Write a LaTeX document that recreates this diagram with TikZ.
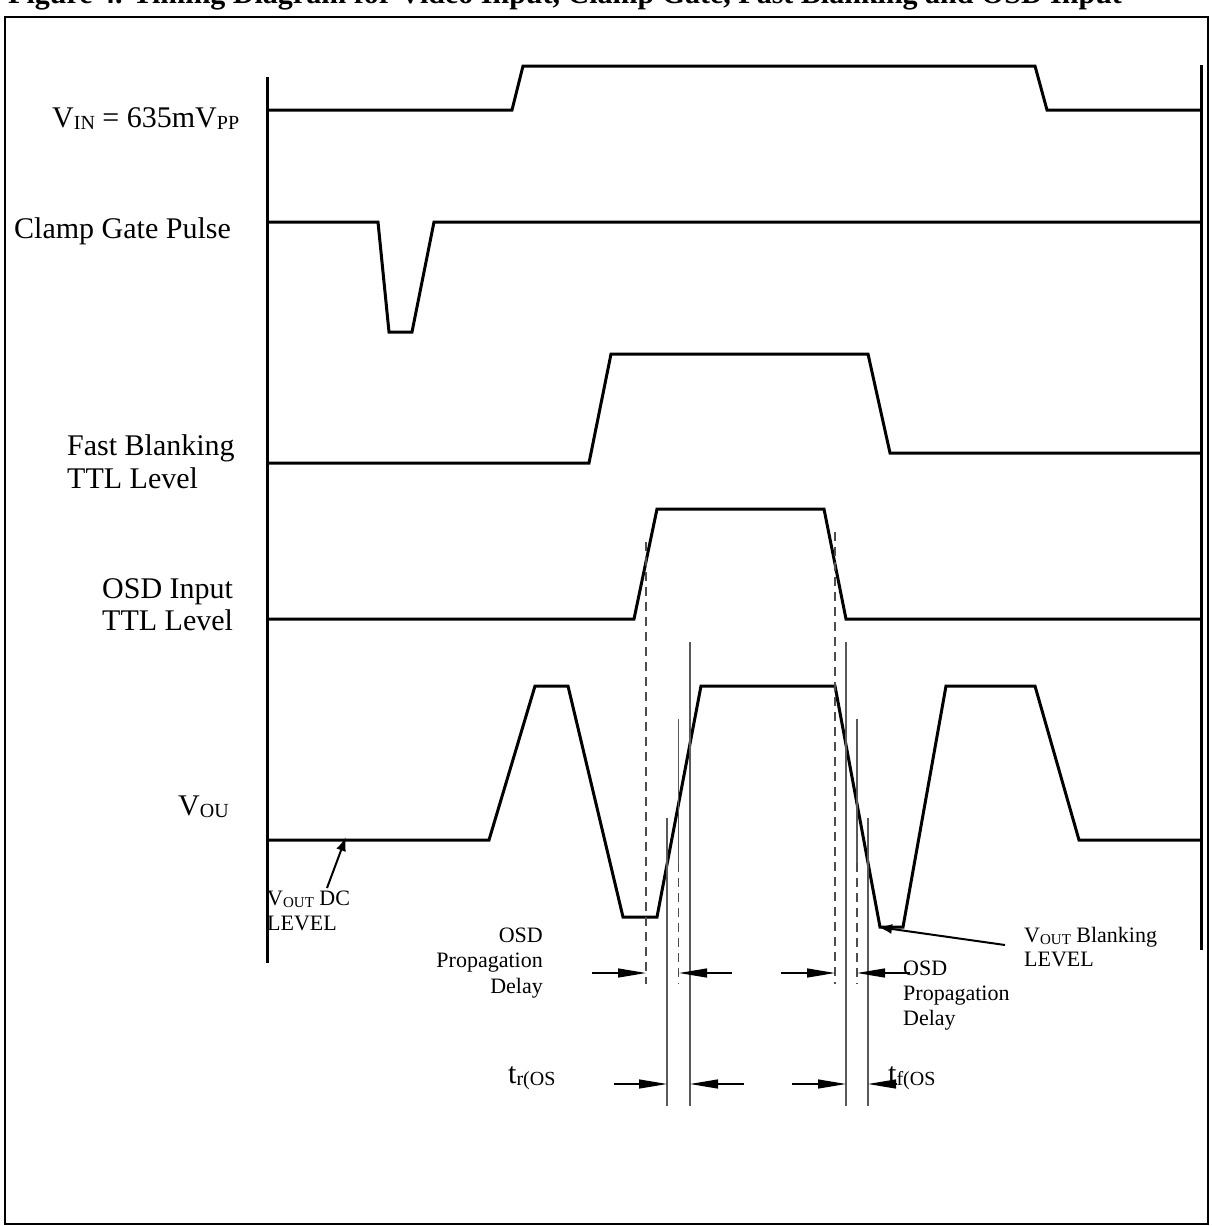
\documentclass[tikz,border=0pt]{standalone}
\usepackage{fontspec}
\setmainfont{Liberation Serif}
\usetikzlibrary{arrows.meta}
\newcommand\subb[1]{\raisebox{-2.5pt}{\fontsize{20}{20}\selectfont #1}}
\newcommand\subs[1]{\raisebox{-2pt}{\fontsize{15}{15}\selectfont #1}}
\tikzset{
  wave/.style={line width=3pt, line join=miter},
  axisline/.style={line width=3pt},
  guide/.style={line width=1.2pt, draw=black!65},
  dguide/.style={line width=1.2pt, draw=black!70, dash pattern=on 9pt off 6pt},
  dimarrow/.style={line width=1.3pt, -{Triangle[length=28pt,width=9pt]}},
  callout/.style={line width=2pt, -{Latex[length=14pt,width=10pt]}},
  big/.style={font=\fontsize{30}{33}\selectfont, inner sep=0pt},
  small/.style={font=\fontsize{22}{25}\selectfont, inner sep=0pt},
}
\begin{document}
\begin{tikzpicture}[x=1pt,y=-1pt]
\useasboundingbox (0,0) rectangle (1212,1226);
% title (cut by the page top)
\node[big, font=\fontsize{30}{33}\selectfont\bfseries, anchor=base west] (title) at (8,4)
  {Figure 4. Timing Diagram for Video Input, Clamp Gate, Fast Blanking and OSD Input};
% frame
\draw[line width=2.5pt] (5,17) rectangle (1208,1224);
% axes
\draw[axisline] (267,77) -- (267,963);
\draw[axisline] (1201,65) -- (1201,950);
% waveforms
\draw[wave] (267,110) -- (512,110) -- (523,66) -- (1035,66) -- (1047,110) -- (1201,110);
\draw[wave] (267,222) -- (378,222) -- (389,332) -- (412,332) -- (434,222) -- (1201,222);
\draw[wave] (267,463) -- (589,463) -- (611,354) -- (868,354) -- (890,453) -- (1201,453);
\draw[wave] (267,619) -- (634,619) -- (657,509) -- (824,509) -- (846,619) -- (1201,619);
\draw[wave] (267,840) -- (489,840) -- (535,686) -- (568,686) -- (623,917) -- (657,917)
  -- (701,686) -- (835,686) -- (880,927) -- (903,927) -- (946,686) -- (1035,686)
  -- (1079,840) -- (1201,840);
% guide lines
\draw[dguide] (646,542) -- (646,984);
\draw[guide] (667,818) -- (667,1106);
\draw[guide] (678.5,719) -- (678.5,863);
\draw[dguide] (678.5,863) -- (678.5,984);
\draw[guide] (690,642) -- (690,1106);
\draw[dguide] (835,532) -- (835,984);
\draw[guide] (846,642) -- (846,1106);
\draw[guide] (857,719) -- (857,863);
\draw[dguide] (857,863) -- (857,984);
\draw[guide] (868,818) -- (868,1106);
% dimension arrows: propagation delay
\coordinate (pa1) at (592,973); \coordinate (pb1) at (646,973);
\coordinate (pa2) at (732,973); \coordinate (pb2) at (679,973);
\coordinate (pa3) at (781,973); \coordinate (pb3) at (835,973);
\coordinate (pa4) at (910,973); \coordinate (pb4) at (857,973);
\draw[dimarrow] (pa1) -- (pb1);
\draw[dimarrow] (pa2) -- (pb2);
\draw[dimarrow] (pa3) -- (pb3);
\draw[dimarrow] (pa4) -- (pb4);
% dimension arrows: rise/fall
\coordinate (ta1) at (614,1084); \coordinate (tb1) at (667,1084);
\coordinate (ta2) at (744,1084); \coordinate (tb2) at (690,1084);
\coordinate (ta3) at (792,1084); \coordinate (tb3) at (846,1084);
\coordinate (ta4) at (897,1084); \coordinate (tb4) at (868,1084);
\draw[dimarrow] (ta1) -- (tb1);
\draw[dimarrow] (ta2) -- (tb2);
\draw[dimarrow] (ta3) -- (tb3);
\draw[dimarrow] (ta4) -- (tb4);
% signal labels
\node[big, anchor=base west] (lvin) at (52,127) {V\subb{IN} = 635mV\subb{PP}};
\node[big, anchor=base west] (lclamp) at (14,238) {Clamp Gate Pulse};
\node[big, anchor=base west] (lfb1) at (67,455) {Fast Blanking};
\node[big, anchor=base west] (lfb2) at (67,488) {TTL Level};
\node[big, anchor=base west] (losd1) at (102,598) {OSD Input};
\node[big, anchor=base west] (losd2) at (102,630) {TTL Level};
\node[big, anchor=base west] (lvout) at (178,815) {V\subb{OU}};
% DC level callout
\node[small, anchor=base west] (dc1) at (267,905) {V\subs{OUT} DC};
\node[small, anchor=base west] (dc2) at (267,930) {LEVEL};
\coordinate (dctip) at (346,837);
\draw[callout] (327,888) -- (dctip);
% blanking level callout
\node[small, anchor=base west] (bl1) at (1024,942) {V\subs{OUT} Blanking};
\node[small, anchor=base west] (bl2) at (1024,966) {LEVEL};
\coordinate (bltip) at (878,927);
\draw[callout] (1005,945) -- (bltip);
% propagation delay labels
\node[small, anchor=base east] (pdl1) at (543,942) {OSD};
\node[small, anchor=base east] (pdl2) at (543,967) {Propagation};
\node[small, anchor=base east] (pdl3) at (543,993) {Delay};
\node[small, anchor=base west] (pdr1) at (903,975) {OSD};
\node[small, anchor=base west] (pdr2) at (903,1000) {Propagation};
\node[small, anchor=base west] (pdr3) at (903,1025) {Delay};
% rise / fall labels
\node[big, anchor=base west] (tr) at (508,1083) {t\subb{r(OS}};
\node[big, anchor=base west] (tf) at (888,1083) {t\subb{f(OS}};
\end{tikzpicture}
\end{document}
